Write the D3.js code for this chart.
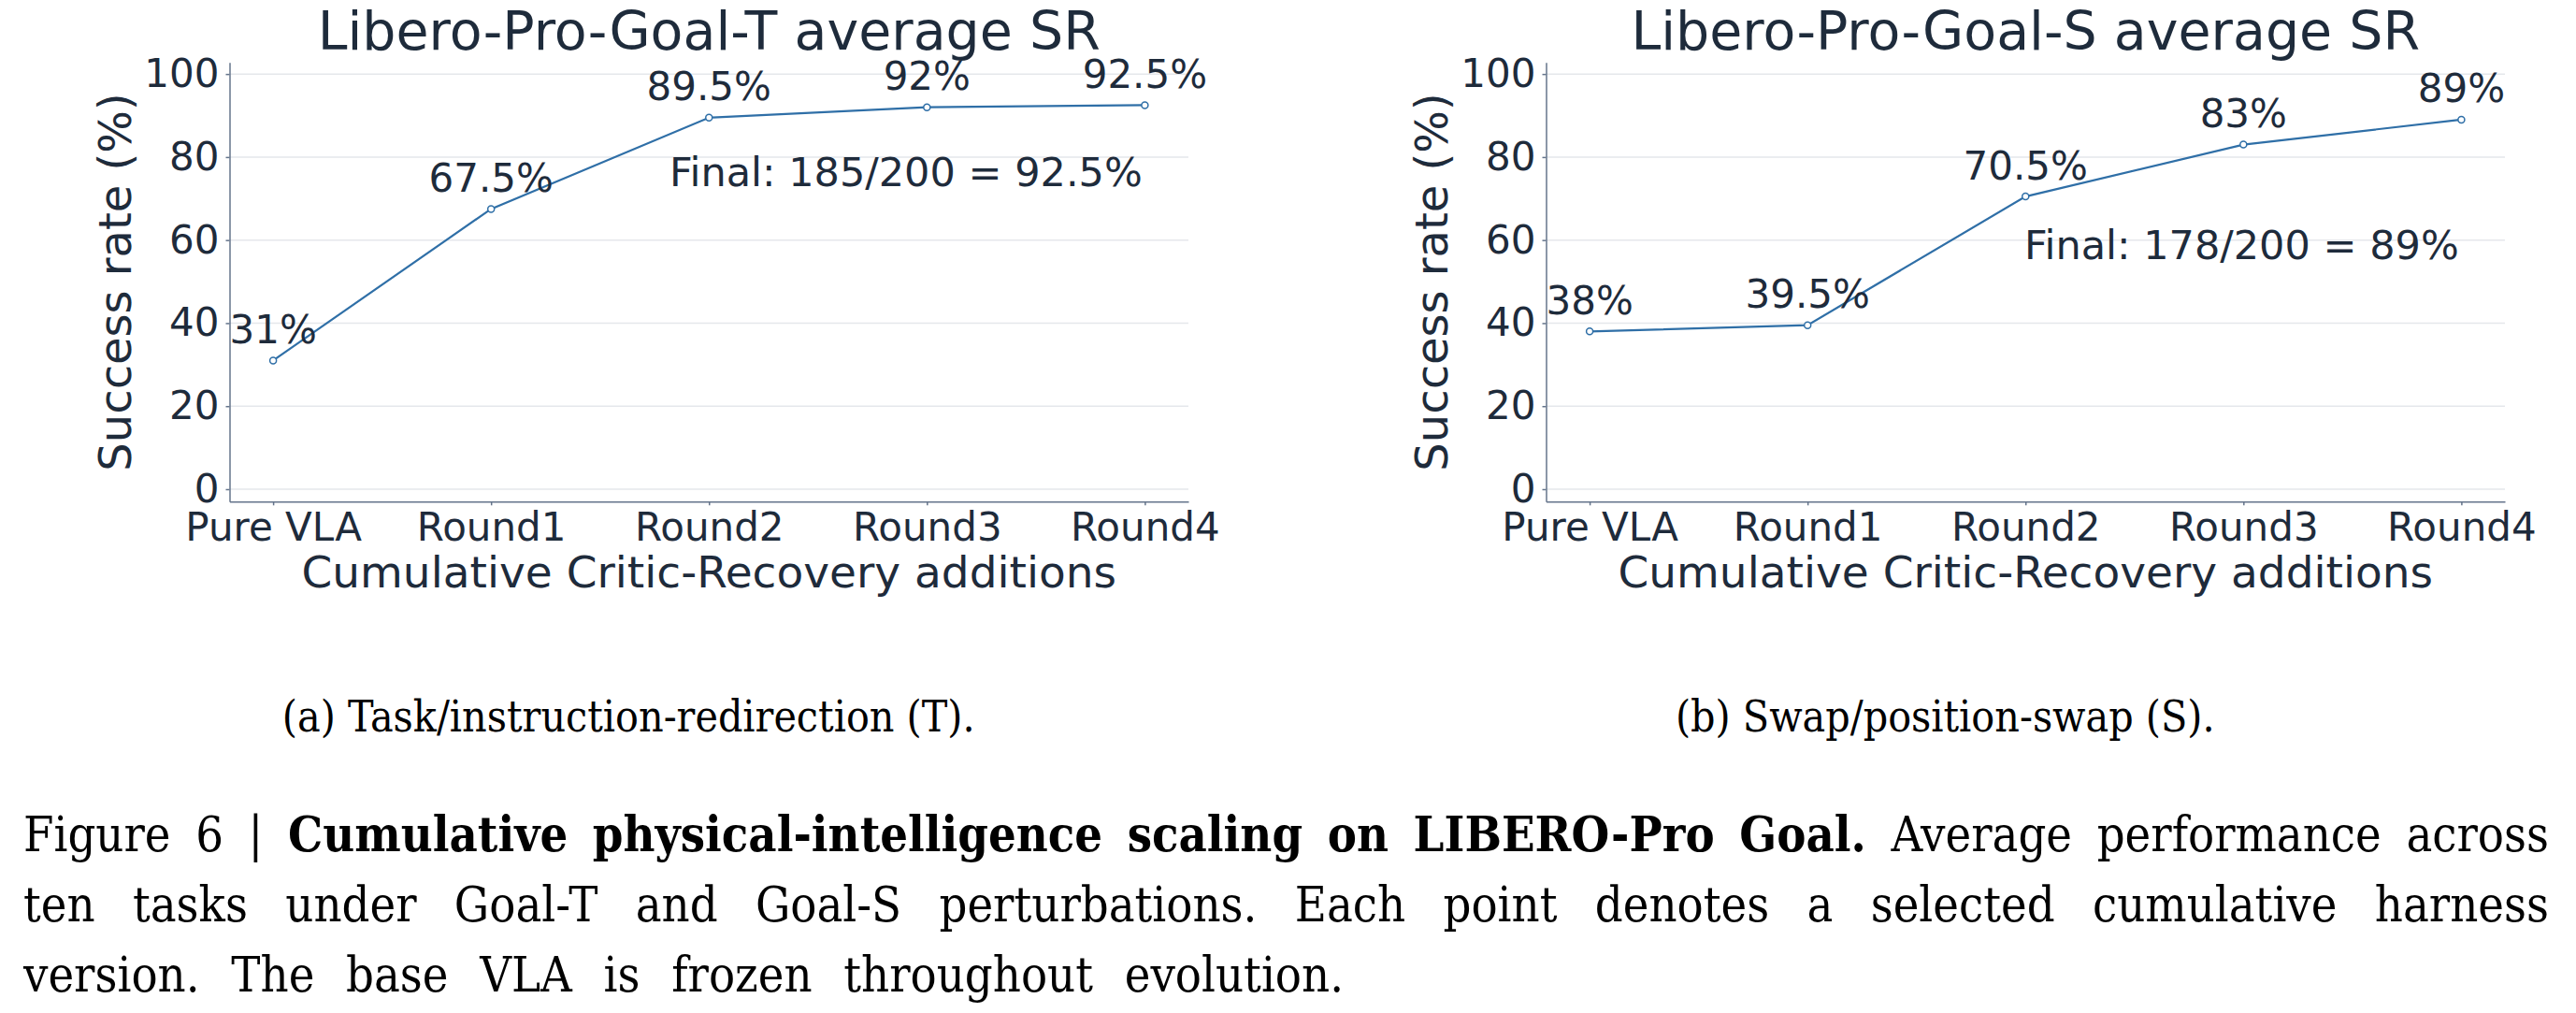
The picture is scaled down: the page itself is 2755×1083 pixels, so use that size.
<html>
<head>
<meta charset="utf-8">
<script src="https://d3js.org/d3.v7.min.js"></script>
<style>
  body { margin: 0; background: #fff; }
  svg { display: block; }
</style>
</head>
<body>
<svg id="fig" width="2755" height="1083"></svg>
<script>
// values
var categories = ["Pure VLA", "Round1", "Round2", "Round3", "Round4"];
var goalT = [31, 67.5, 89.5, 92, 92.5];
var goalS = [38, 39.5, 70.5, 83, 89];
var yTicks = [0, 20, 40, 60, 80, 100];
var titles = ["Libero-Pro-Goal-T average SR", "Libero-Pro-Goal-S average SR"];
var finalNotes = ["Final: 185/200 = 92.5%", "Final: 178/200 = 89%"];
var finalNoteY = [73, 55.5];
var subCaptions = ["(a) Task/instruction-redirection (T).", "(b) Swap/position-swap (S)."];
var captionLines = [
  [["Figure", 0], ["6", 0], ["|", 0], ["Cumulative", 1], ["physical-intelligence", 1], ["scaling", 1],
   ["on", 1], ["LIBERO-Pro", 1], ["Goal.", 1], ["Average", 0], ["performance", 0], ["across", 0]],
  [["ten", 0], ["tasks", 0], ["under", 0], ["Goal-T", 0], ["and", 0], ["Goal-S", 0], ["perturbations.", 0],
   ["Each", 0], ["point", 0], ["denotes", 0], ["a", 0], ["selected", 0], ["cumulative", 0], ["harness", 0]],
  [["version.", 0], ["The", 0], ["base", 0], ["VLA", 0], ["is", 0], ["frozen", 0], ["throughout", 0], ["evolution.", 0]]
];

var textColor = "#1e2b3b";
var axisColor = "#64748b";
var gridColor = "#e5e7eb";
var lineColor = "#2f6fa7";
var sans = "'DejaVu Sans', Verdana, sans-serif";
var serif = "'DejaVu Serif Condensed', 'DejaVu Serif', serif";

var W = 1025.5, H = 469.6;
var x = d3.scalePoint().domain(categories).range([0, W]).padding(0.2);
var y = d3.scaleLinear().domain([-3, 102.8]).range([H, 0]);

var svg = d3.select("#fig");

function drawPanel(left, values, title, note, noteY, subCaption) {
  var g = svg.append("g").attr("transform", "translate(" + left + ",66.7)");

  g.append("g").selectAll("line").data(yTicks).enter().append("line")
    .attr("x1", 0).attr("x2", W)
    .attr("y1", function(d) { return y(d); })
    .attr("y2", function(d) { return y(d); })
    .attr("stroke", gridColor).attr("stroke-width", 1.5);

  var ya = g.append("g")
    .call(d3.axisLeft(y).tickValues(yTicks).tickSize(4).tickSizeOuter(0).tickPadding(7));
  var xa = g.append("g").attr("transform", "translate(0," + H + ")")
    .call(d3.axisBottom(x).tickSize(4).tickSizeOuter(0).tickPadding(8));

  [ya, xa].forEach(function(a) {
    a.selectAll("path, line").attr("stroke", axisColor).attr("stroke-width", 1.5);
    a.selectAll("text").attr("fill", textColor).style("font-family", sans).style("font-size", "42px");
  });

  var line = d3.line()
    .x(function(d, i) { return x(categories[i]); })
    .y(function(d) { return y(d); });

  g.append("path").datum(values)
    .attr("d", line).attr("fill", "none")
    .attr("stroke", lineColor).attr("stroke-width", 2.2);

  g.selectAll("circle").data(values).enter().append("circle")
    .attr("cx", function(d, i) { return x(categories[i]); })
    .attr("cy", function(d) { return y(d); })
    .attr("r", 3.5)
    .attr("fill", "#fff").attr("stroke", lineColor).attr("stroke-width", 1.5);

  g.selectAll(".lbl").data(values).enter().append("text")
    .attr("class", "lbl")
    .attr("x", function(d, i) { return x(categories[i]); })
    .attr("y", function(d) { return y(d) - 18.5; })
    .attr("text-anchor", "middle")
    .attr("fill", textColor).style("font-family", sans).style("font-size", "42px")
    .text(function(d) { return d + "%"; });

  g.append("text")
    .attr("x", W * 0.952).attr("y", y(noteY))
    .attr("text-anchor", "end")
    .attr("fill", textColor).style("font-family", sans).style("font-size", "43px")
    .text(note);

  g.append("text")
    .attr("x", W / 2).attr("y", -14)
    .attr("text-anchor", "middle")
    .attr("fill", textColor).style("font-family", sans).style("font-size", "57px")
    .text(title);

  g.append("text")
    .attr("transform", "translate(-105.5," + (H / 2) + ") rotate(-90)")
    .attr("text-anchor", "middle")
    .attr("fill", textColor).style("font-family", sans).style("font-size", "48px")
    .text("Success rate (%)");

  g.append("text")
    .attr("x", W / 2).attr("y", 561.6)
    .attr("text-anchor", "middle")
    .attr("fill", textColor).style("font-family", sans).style("font-size", "47px")
    .text("Cumulative Critic-Recovery additions");

  svg.append("text")
    .attr("x", left + W / 2 - 86).attr("y", 781.7)
    .attr("text-anchor", "middle")
    .attr("fill", "#000").style("font-family", serif).style("font-size", "46px")
    .text(subCaption);
}

drawPanel(245.5, goalT, titles[0], finalNotes[0], finalNoteY[0], subCaptions[0]);
drawPanel(1653.5, goalS, titles[1], finalNotes[1], finalNoteY[1], subCaptions[1]);

// caption, words spread out to fill each line like the justified paragraph
var capLeft = 25, lineWidths = [2701, 2701, 1412], baselines = [910, 985, 1060];
captionLines.forEach(function(words, li) {
  var nodes = words.map(function(w) {
    return svg.append("text")
      .attr("y", baselines[li])
      .attr("fill", "#000").style("font-family", serif).style("font-size", "52px")
      .style("font-weight", w[1] ? "bold" : "normal")
      .text(w[0]);
  });
  var widths = nodes.map(function(n) { return n.node().getComputedTextLength(); });
  var gap = (lineWidths[li] - d3.sum(widths)) / (words.length - 1);
  var pos = capLeft;
  nodes.forEach(function(n, i) {
    n.attr("x", pos);
    pos += widths[i] + gap;
  });
});
</script>
</body>
</html>
